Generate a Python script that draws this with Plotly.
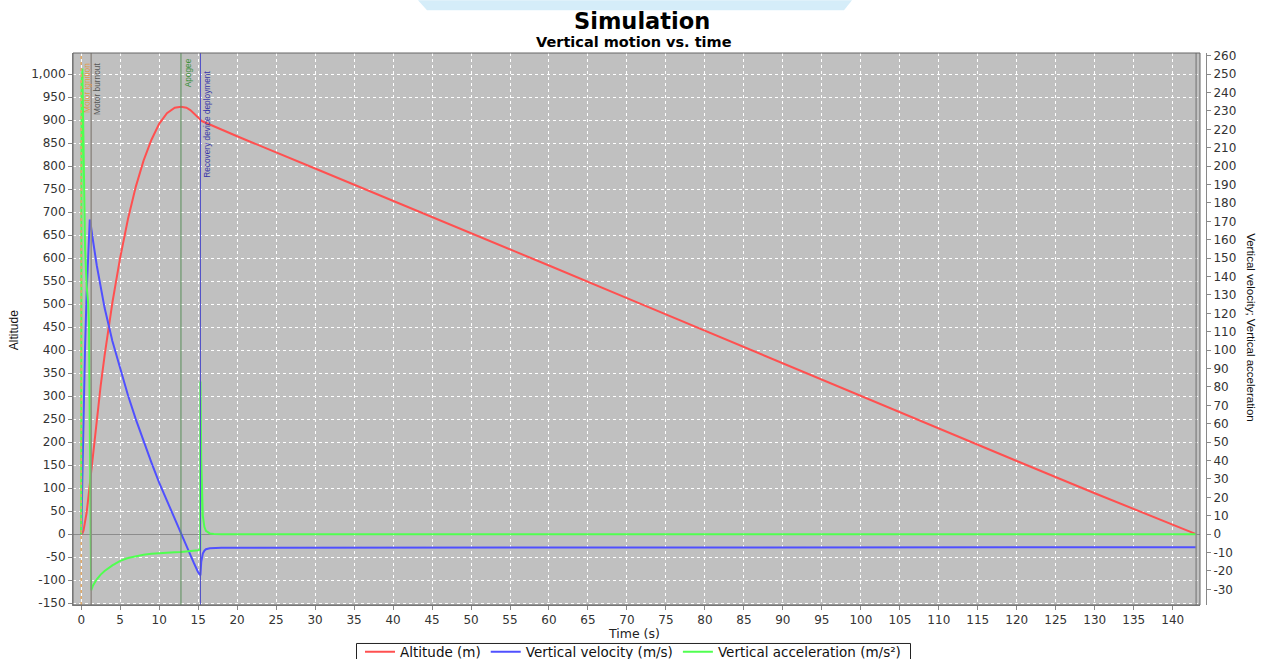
import plotly.graph_objects as go

# ---------------- data ----------------
time_s = [0, 0.05, 0.15, 0.3, 0.5, 0.7, 0.9, 1.0, 1.1, 1.2,
          1.28, 1.5, 2, 2.5, 3, 4, 5, 6, 7, 8,
          9, 10, 11, 12, 12.8, 13.5, 14, 14.5, 15, 15.28,
          15.3, 15.4, 15.5, 15.6, 15.8, 16, 16.5, 17, 18, 20,
          30, 40, 50, 55, 56, 60, 70, 80, 90, 100,
          110, 120, 130, 140, 143]

altitude_m = [0, 0.1, 1.5, 8, 24, 47, 76, 92, 109, 126,
              140, 176, 253, 323, 388, 503, 601, 685, 755, 812,
              857, 892, 915, 927, 929, 927, 922, 915, 906, 901,
              900.5, 899, 898, 897, 895.5, 894, 890, 886.5, 879, 865,
              795, 725, 654, 619, 612, 584, 513, 442, 372, 301,
              230, 159, 89, 20, 0]

velocity_ms = [0, 6, 31, 66, 102, 131, 156, 166, 171, 169,
               167, 160, 146, 134, 123, 105, 89.5, 75.5, 62.5, 50.5,
               39, 28, 18, 8, 0, -6.6, -11.4, -16.1, -20.7, -22.3,
               -22.0, -15, -12, -10.5, -9, -8.2, -7.7, -7.5, -7.4, -7.4,
               -7.4, -7.4, -7.4, -7.4, -7.1, -7.1, -7.1, -7.1, -7.1, -7.1,
               -7.1, -7.1, -7.1, -7.1, -7.1]

accel_ms2 = [0, 245, 253, 210, 155, 135, 125, 115, 60, 0,
             -30.5, -28, -24.5, -22, -20, -17, -14.5, -13, -12, -11.2,
             -10.6, -10.2, -9.9, -9.8, -9.7, -9.5, -9.3, -9.0, -8.7, -8.3,
             83, 40, 20, 10, 4, 1.8, 0.4, 0.1, 0, 0,
             0, 0, 0, 0, 0, 0, 0, 0, 0, 0,
             0, 0, 0, 0, 0]

event_names = ["Motor ignition", "Motor burnout", "Apogee",
               "Recovery device deployment", "Ground hit"]
event_times = [0, 1.28, 12.8, 15.3, 143.0]

series_names = ["Altitude (m)", "Vertical velocity (m/s)", "Vertical acceleration (m/s²)"]

x_ticks = list(range(0, 145, 5))
left_ticks = list(range(-150, 1001, 50))
right_ticks = list(range(-30, 261, 10))
left_tick_text = [f"{v:,}" for v in left_ticks]
right_tick_text = [f"{v}" for v in right_ticks]

# ---------------- layout geometry ----------------
W, H = 1267, 659
L, R, T, B = 73, 1206, 52.7, 605      # margin box (right axis line sits at R)
PLOT_R = 1200                          # right edge of grey plotting area
XDOM = (PLOT_R - L) / (R - L)


def px(x):
    return (x - L) / (R - L)


def py(y):
    return (B - y) / (B - T)


TICKFONT = dict(family="DejaVu Sans", size=12, color="#333333")
NARROW = "Liberation Sans, Arial, sans-serif"

fig = go.Figure()
fig.add_trace(go.Scatter(x=time_s, y=altitude_m, name=series_names[0], mode="lines",
                         line=dict(color="#ff5050", width=2), yaxis="y"))
fig.add_trace(go.Scatter(x=time_s, y=velocity_ms, name=series_names[1], mode="lines",
                         line=dict(color="#5050ff", width=2), yaxis="y2"))
fig.add_trace(go.Scatter(x=time_s, y=accel_ms2, name=series_names[2], mode="lines",
                         line=dict(color="#50ff50", width=2), yaxis="y2"))

# event lines and labels
ev_line_style = [dict(color="#e0a868", width=1.5, dash="dot"),
                 dict(color="#8f8a84", width=1.5),
                 dict(color="#5a8f5a", width=1),
                 dict(color="#5050c8", width=1),
                 dict(color="#8a8a8a", width=1.5)]
ev_label_color = ["#e09a48", "#555555", "#3a8f3a", "#3636a8", "#888888"]
ev_label_top = [62, 62, 57, 69, 60]

shapes = []
annotations = []
for name, t, ls, lc, top in zip(event_names, event_times, ev_line_style, ev_label_color, ev_label_top):
    shapes.append(dict(type="line", xref="x", yref="paper", x0=t, x1=t, y0=0, y1=1,
                       line=ls, layer="above"))
    if name == "Ground hit":
        continue
    annotations.append(dict(x=t, xref="x", xshift=0.5, y=py(top), yref="paper",
                            text=name, textangle=-90, showarrow=False,
                            xanchor="left", yanchor="top", borderpad=0,
                            font=dict(family=NARROW, size=8.3, color=lc)))

# light blue tab at top of page
shapes.append(dict(type="path", xref="paper", yref="paper",
                   path=f"M {px(418)},{py(0)} L {px(852)},{py(0)} L {px(844)},{py(10)} L {px(427)},{py(10)} Z",
                   fillcolor="#d5edf9", line=dict(width=0), layer="above"))
# plot frame
shapes.append(dict(type="rect", xref="paper", yref="paper", x0=0, x1=XDOM, y0=0, y1=1,
                   line=dict(color="#666666", width=1), layer="above"))
# legend frame
shapes.append(dict(type="rect", xref="paper", yref="paper", x0=px(356.5), x1=px(910.5),
                   y0=py(675), y1=py(643.5), line=dict(color="#222222", width=1),
                   fillcolor="rgba(0,0,0,0)", layer="above"))

# titles
annotations.append(dict(x=px(642), y=py(20.5), xref="paper", yref="paper", text="<b>Simulation</b>",
                        showarrow=False, xanchor="center", yanchor="middle", borderpad=0,
                        font=dict(family="DejaVu Sans", size=22.5, color="#000000")))
annotations.append(dict(x=px(633.5), y=py(41.5), xref="paper", yref="paper", text="<b>Vertical motion vs. time</b>",
                        showarrow=False, xanchor="center", yanchor="middle", borderpad=0,
                        font=dict(family="DejaVu Sans", size=14.5, color="#000000")))
annotations.append(dict(x=px(634), y=py(634), xref="paper", yref="paper", text="Time (s)",
                        showarrow=False, xanchor="center", yanchor="middle", borderpad=0,
                        font=dict(family="DejaVu Sans", size=12.5, color="#222222")))
annotations.append(dict(x=px(14), y=py(330), xref="paper", yref="paper", text="Altitude",
                        showarrow=False, xanchor="center", yanchor="middle", textangle=-90,
                        font=dict(family=NARROW, size=12, color="#111111")))
annotations.append(dict(x=px(1251), y=py(327), xref="paper", yref="paper",
                        text="Vertical velocity; Vertical acceleration",
                        showarrow=False, xanchor="center", yanchor="middle", textangle=90,
                        font=dict(family=NARROW, size=11.5, color="#111111")))

grid = dict(showgrid=True, gridcolor="#ffffff", griddash="3px,3px", gridwidth=1)

fig.update_layout(
    width=W, height=H,
    margin=dict(l=L, r=W - R, t=T, b=H - B, pad=0, autoexpand=False),
    paper_bgcolor="#ffffff", plot_bgcolor="#c0c0c0",
    showlegend=True,
    legend=dict(orientation="h", x=px(633), xanchor="center", y=py(636.5), yanchor="top",
                borderwidth=0, bgcolor="rgba(255,255,255,0)",
                font=dict(family="DejaVu Sans", size=13.5, color="#111111"),
                itemwidth=30, tracegroupgap=0),
    xaxis=dict(domain=[0, XDOM], range=[-1.05, 143.5], tickmode="array", tickvals=x_ticks,
               ticks="outside", ticklen=4, tickcolor="#888888", tickfont=TICKFONT,
               showline=True, linecolor="#888888", zeroline=False, **grid),
    yaxis=dict(range=[-154, 1046], tickmode="array", tickvals=left_ticks, ticktext=left_tick_text,
               ticks="outside", ticklen=4, tickcolor="#888888", tickfont=TICKFONT,
               showline=True, linecolor="#888888",
               zeroline=True, zerolinecolor="#8c8c8c", zerolinewidth=1, **grid),
    yaxis2=dict(range=[-38.5, 261.5], overlaying="y", side="right", anchor="free", position=1,
                tickmode="array", tickvals=right_ticks, ticktext=right_tick_text,
                ticks="outside", ticklen=4, tickcolor="#888888", tickfont=TICKFONT,
                showline=True, linecolor="#888888", showgrid=False, zeroline=False),
    shapes=shapes,
    annotations=annotations,
)

fig.write_html("out.html", config={"displayModeBar": False},
               post_script="document.body.style.margin='0';")
